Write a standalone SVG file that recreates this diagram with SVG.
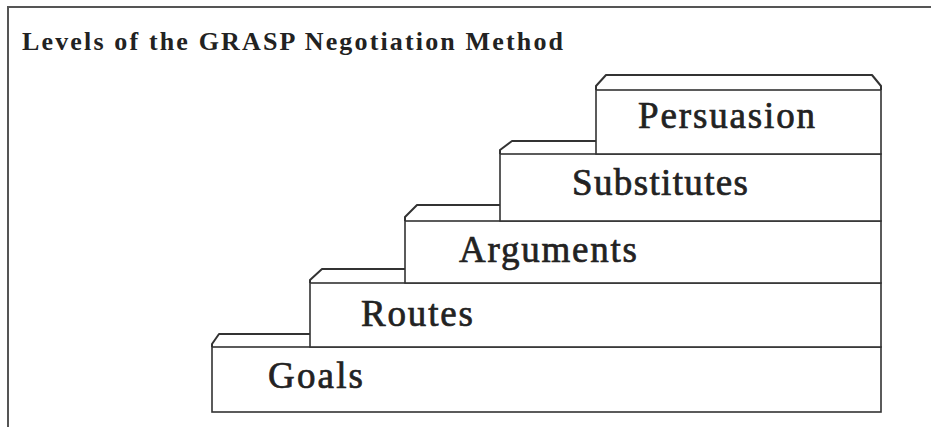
<svg xmlns="http://www.w3.org/2000/svg" width="931" height="427" viewBox="0 0 931 427">
<style>
.box{fill:#fff;stroke:#333;stroke-width:1.6}
.ledge{fill:none;stroke:#333;stroke-width:2;stroke-linejoin:round}
.lbl{font-family:"Liberation Serif","Times New Roman",serif;font-weight:normal;font-size:37px;fill:#222;stroke:#222;stroke-width:0.7}
.title{font-family:"Liberation Serif","Times New Roman",serif;font-weight:bold;font-size:26px;fill:#222}
.frame{fill:none;stroke:#555;stroke-width:2}
</style>
<rect width="931" height="427" fill="#fff"/>
<path class="frame" d="M8,427 V7 H931"/>
<text class="title" x="22" y="50" textLength="541" lengthAdjust="spacing">Levels of the GRASP Negotiation Method</text>
<g id="goals">
<path class="ledge" d="M212,347 V344 L219,334 H310"/>
<rect class="box" x="212" y="347" width="669" height="65"/>
<text class="lbl" x="268" y="388" textLength="95" lengthAdjust="spacing">Goals</text>
</g>
<g id="routes">
<path class="ledge" d="M310,283 V280 L322,269 H405"/>
<rect class="box" x="310" y="283" width="571" height="64"/>
<text class="lbl" x="361" y="326" textLength="112" lengthAdjust="spacing">Routes</text>
</g>
<g id="arguments">
<path class="ledge" d="M405,221 V217 L417,205 H500"/>
<rect class="box" x="405" y="221" width="476" height="62"/>
<text class="lbl" x="459" y="262" textLength="178" lengthAdjust="spacing">Arguments</text>
</g>
<g id="substitutes">
<path class="ledge" d="M500,154 V150 L512,141 H596"/>
<rect class="box" x="500" y="154" width="381" height="67"/>
<text class="lbl" x="572" y="195" textLength="176" lengthAdjust="spacing">Substitutes</text>
</g>
<g id="persuasion">
<path class="ledge" d="M596,90 V86 L606,75 H872 L881,86 V90"/>
<rect class="box" x="596" y="90" width="285" height="64"/>
<text class="lbl" x="638" y="128" textLength="177" lengthAdjust="spacing">Persuasion</text>
</g>
<g id="connectors"></g>
</svg>
